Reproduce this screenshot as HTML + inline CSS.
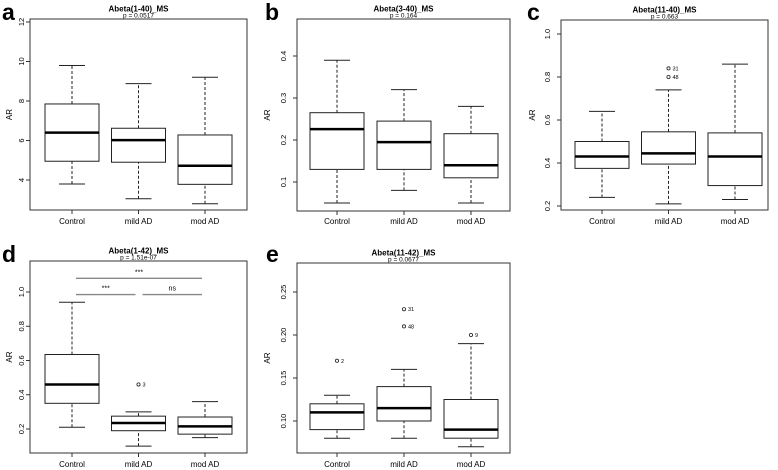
<!DOCTYPE html>
<html><head><meta charset="utf-8"><style>
html,body{margin:0;padding:0;background:#fff}
svg{display:block;font-family:"Liberation Sans",sans-serif}
</style></head><body>
<svg id="fig" width="778" height="470" viewBox="0 0 778 470"></svg>
<script>
// ---- data (whisker low, q1, median, q3, whisker high) ----
const groups = ["Control", "mild AD", "mod AD"];
const panelIds = ["a", "b", "c", "d", "e"];
const titles = ["Abeta(1-40)_MS", "Abeta(3-40)_MS", "Abeta(11-40)_MS", "Abeta(1-42)_MS", "Abeta(11-42)_MS"];
const pvals = ["p = 0.0517", "p = 0.164", "p = 0.663", "p = 1.51e-07", "p = 0.0677"];
const statsA = [[3.8, 4.95, 6.4, 7.85, 9.8], [3.05, 4.9, 6.02, 6.62, 8.88], [2.8, 3.78, 4.72, 6.28, 9.2]];
const statsB = [[0.05, 0.13, 0.226, 0.265, 0.39], [0.08, 0.13, 0.195, 0.245, 0.32], [0.05, 0.11, 0.14, 0.215, 0.28]];
const statsC = [[0.24, 0.375, 0.43, 0.50, 0.64], [0.21, 0.395, 0.445, 0.545, 0.74], [0.23, 0.295, 0.43, 0.54, 0.86]];
const statsD = [[0.21, 0.35, 0.46, 0.635, 0.94], [0.10, 0.19, 0.235, 0.275, 0.30], [0.15, 0.17, 0.215, 0.27, 0.36]];
const statsE = [[0.08, 0.09, 0.11, 0.12, 0.13], [0.08, 0.10, 0.115, 0.14, 0.16], [0.07, 0.08, 0.09, 0.125, 0.19]];
// outliers: [groupIndex, value, label]
const outC = [[1, 0.84, "31"], [1, 0.80, "48"]];
const outD = [[1, 0.46, "3"]];
const outE = [[0, 0.17, "2"], [1, 0.23, "31"], [1, 0.21, "48"], [2, 0.20, "9"]];
const ticksA = [4, 6, 8, 10, 12];
const ticksB = [0.1, 0.2, 0.3, 0.4];
const ticksC = [0.2, 0.4, 0.6, 0.8, 1.0];
const ticksD = [0.2, 0.4, 0.6, 0.8, 1.0];
const ticksE = [0.10, 0.15, 0.20, 0.25];
const tickLabA = ["4", "6", "8", "10", "12"];
const tickLabB = ["0.1", "0.2", "0.3", "0.4"];
const tickLabC = ["0.2", "0.4", "0.6", "0.8", "1.0"];
const tickLabD = ["0.2", "0.4", "0.6", "0.8", "1.0"];
const tickLabE = ["0.10", "0.15", "0.20", "0.25"];
// significance brackets for d: [fromGroup, toGroup, value, label]
const sigD = [[0, 2, 1.08, "***"], [0, 1, 0.985, "***"], [1, 2, 0.985, "ns"]];

// ---- layout ----
const layout = [
  {l:30,r:247,t:19,b:210,c0:72,dx:66.5,v0:4,p0:180,v1:12,p1:22,lx:2,ly:20,ylx:12,tlx:24,xly:224},
  {l:297,r:510,t:19,b:211,c0:337,dx:67,v0:0.1,p0:182,v1:0.4,p1:56,lx:265,ly:20,ylx:270,tlx:286,xly:224},
  {l:561,r:768,t:20,b:210,c0:602,dx:66.5,v0:0.2,p0:206,v1:1.0,p1:34,lx:527,ly:20,ylx:535,tlx:550,xly:224},
  {l:30,r:247,t:261,b:453,c0:72,dx:66.5,v0:0.2,p0:429,v1:1.0,p1:292,lx:2,ly:262,ylx:12,tlx:24,xly:467},
  {l:297,r:510,t:263,b:453,c0:337,dx:67,v0:0.10,p0:421,v1:0.25,p1:292,lx:266,ly:262,ylx:270,tlx:286,xly:467}
];
const allStats = [statsA, statsB, statsC, statsD, statsE];
const allOut = [[], [], outC, outD, outE];
const allTicks = [ticksA, ticksB, ticksC, ticksD, ticksE];
const allTickLab = [tickLabA, tickLabB, tickLabC, tickLabD, tickLabE];

const svg = document.getElementById('fig');
const NS = 'http://www.w3.org/2000/svg';
function mk(tag, attrs, parent, text) {
  const e = document.createElementNS(NS, tag);
  for (const k in attrs) e.setAttribute(k, attrs[k]);
  if (text !== undefined) e.textContent = text;
  parent.appendChild(e);
  return e;
}

panelIds.forEach((id, pi) => {
  const L = layout[pi];
  const y = v => L.p0 + (v - L.v0) * (L.p1 - L.p0) / (L.v1 - L.v0);
  const x = i => L.c0 + i * L.dx;
  const hw = 27;
  const g = mk('g', {}, svg);
  
  

  const letter = mk('text', {x: L.lx, y: L.ly, 'font-size': 23, 'font-weight': 'bold'}, g, id);
  
  
  const cx = (L.l + L.r) / 2;
  const tt = mk('text', {x: cx, y: L.t - 7.5, 'font-size': 8, 'font-weight': 'bold', 'text-anchor': 'middle'}, g, titles[pi]);
  
  
  const pt = mk('text', {x: cx, y: L.t - 1.5, 'font-size': 6.5, 'text-anchor': 'middle'}, g, pvals[pi]);
  
  

  const fr = mk('rect', {x: L.l, y: L.t, width: L.r - L.l, height: L.b - L.t, fill: 'none', stroke: '#333', 'stroke-width': 1}, g);
  
  

  const yl = mk('text', {x: L.ylx, y: (L.t + L.b) / 2, 'font-size': 8, 'text-anchor': 'middle', transform: `rotate(-90 ${L.ylx} ${(L.t + L.b) / 2})`}, g, 'AR');
  
  

  allTicks[pi].forEach((tv, ti) => {
    const ty = y(tv);
    const tk = mk('line', {x1: L.l - 4, x2: L.l, y1: ty, y2: ty, stroke: '#333'}, g);
    
    
    const tl = mk('text', {x: L.tlx, y: ty, 'font-size': 7.5, 'text-anchor': 'middle', transform: `rotate(-90 ${L.tlx} ${ty})`}, g, allTickLab[pi][ti]);
    
    
  });

  groups.forEach((gn, gi) => {
    const gx = x(gi);
    const tk = mk('line', {x1: gx, x2: gx, y1: L.b, y2: L.b + 4, stroke: '#333'}, g);
    
    
    const xl = mk('text', {x: gx, y: L.xly, 'font-size': 8, 'text-anchor': 'middle'}, g, gn);
    
    

    const s = allStats[pi][gi];
    const bg = mk('g', {}, g);
    
    
    mk('line', {x1: gx, x2: gx, y1: y(s[0]), y2: y(s[1]), stroke: '#222', 'stroke-dasharray': '3,2'}, bg);
    mk('line', {x1: gx, x2: gx, y1: y(s[3]), y2: y(s[4]), stroke: '#222', 'stroke-dasharray': '3,2'}, bg);
    mk('line', {x1: gx - 13, x2: gx + 13, y1: y(s[0]), y2: y(s[0]), stroke: '#222'}, bg);
    mk('line', {x1: gx - 13, x2: gx + 13, y1: y(s[4]), y2: y(s[4]), stroke: '#222'}, bg);
    mk('rect', {x: gx - hw, y: y(s[3]), width: 2 * hw, height: y(s[1]) - y(s[3]), fill: '#fff', stroke: '#222', 'stroke-width': 1}, bg);
    mk('line', {x1: gx - hw, x2: gx + hw, y1: y(s[2]), y2: y(s[2]), stroke: '#000', 'stroke-width': 2.5}, bg);
  });

  allOut[pi].forEach(o => {
    const ox = x(o[0]), oy = y(o[1]);
    const c = mk('circle', {cx: ox, cy: oy, r: 1.6, fill: 'none', stroke: '#222', 'stroke-width': 0.8}, g);
    
    
    const t = mk('text', {x: ox + 4, y: oy + 2, 'font-size': 5.5}, g, o[2]);
    
    
  });

  if (id === 'd') {
    sigD.forEach(sg => {
      const sy = y(sg[2]);
      const x1 = x(sg[0]) + 4, x2 = x(sg[1]) - 3;
      const ln = mk('line', {x1: x1, x2: x2, y1: sy, y2: sy, stroke: '#888', 'stroke-width': 1.3}, g);
      
      
      const st = mk('text', {x: (x1 + x2) / 2, y: sy - 4, 'font-size': 7, 'text-anchor': 'middle'}, g, sg[3]);
      
      
    });
  }
});
</script>
</body></html>
